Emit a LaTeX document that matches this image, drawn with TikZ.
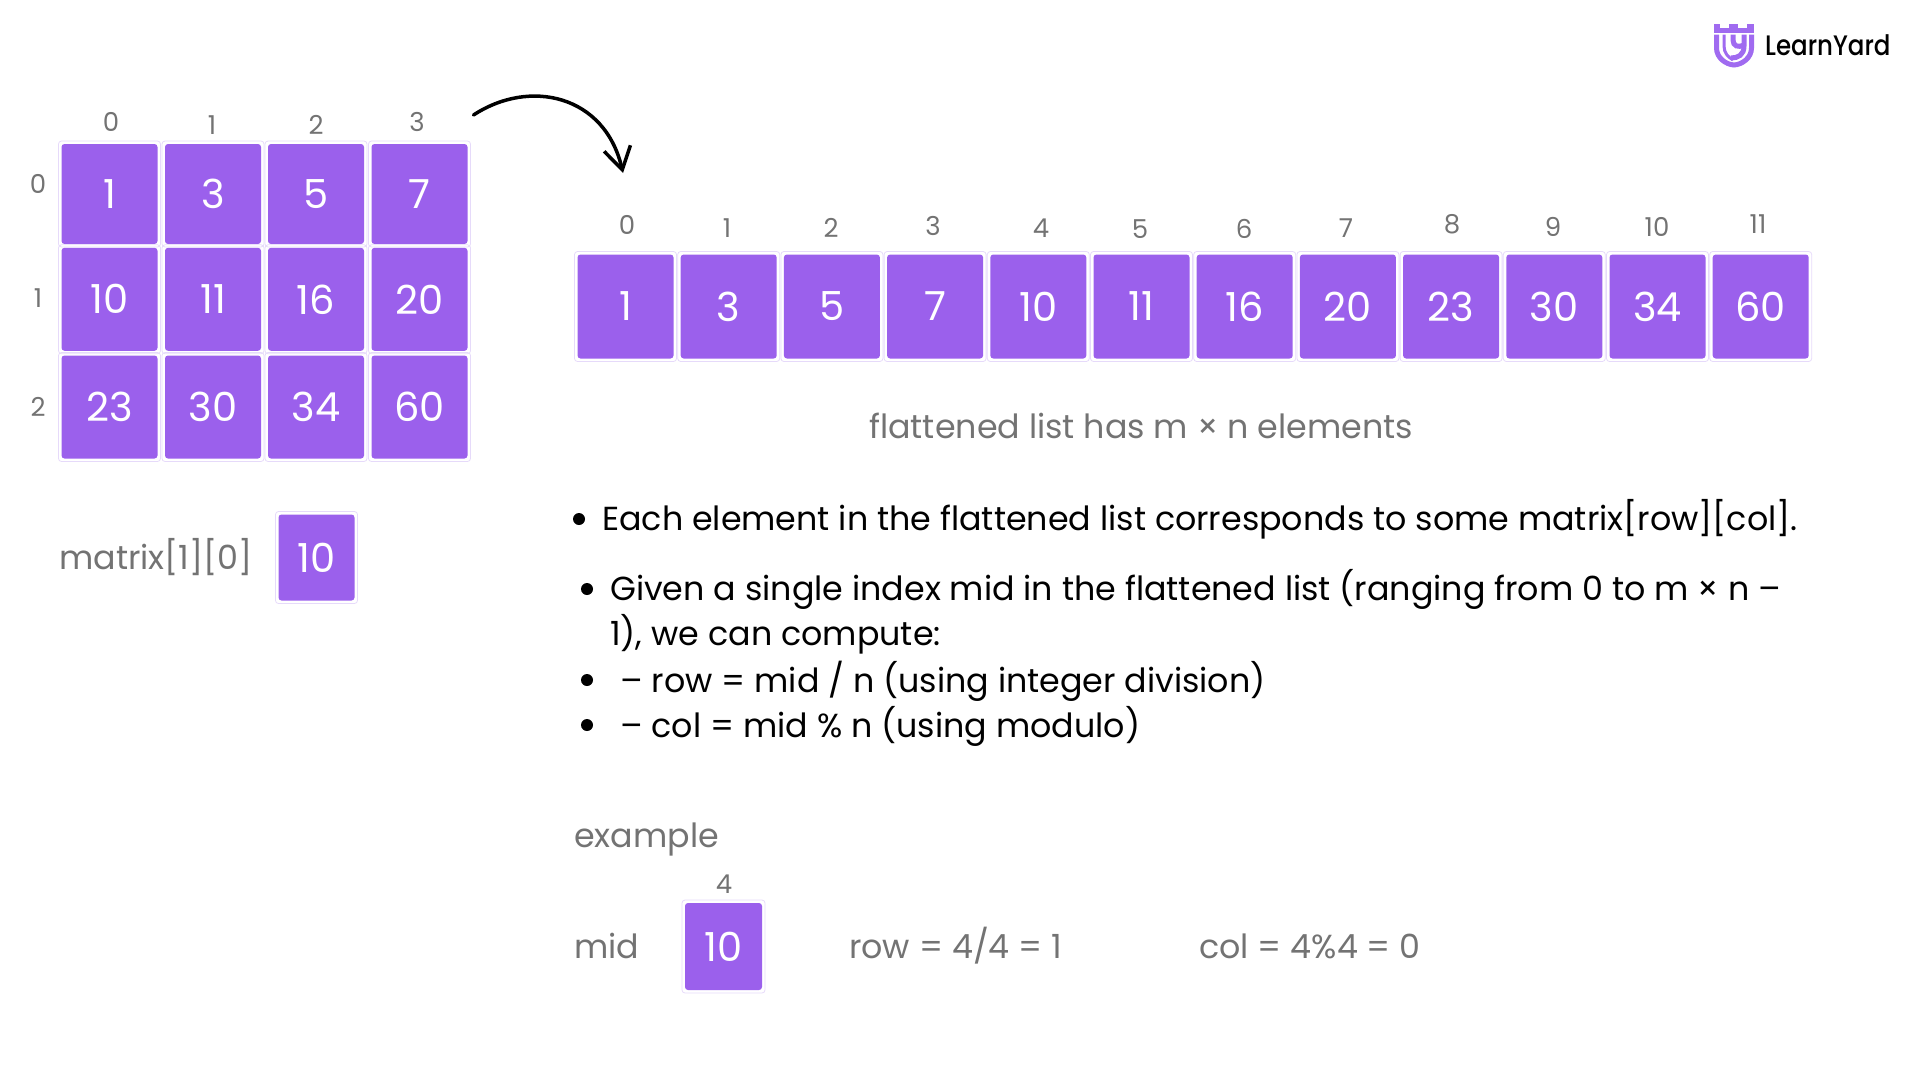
\documentclass[tikz,border=0pt]{standalone}
\usepackage{fontspec}
\setmainfont{Poppins}
\newfontfamily\lightfont{Poppins Light}
\newfontfamily\mediumfont{Poppins Medium}
\usepackage{tikz}
\usetikzlibrary{arrows.meta}
\definecolor{cellfill}{HTML}{9B60EC}
\definecolor{cellline}{HTML}{E6DAFA}
\definecolor{greytext}{HTML}{737373}
\definecolor{logopurple}{HTML}{A06BF0}
\tikzset{
    cell/.style      = {draw=cellline, line width=0.8pt, rounded corners=3pt, inner sep=0pt,
                        text=white, font=\fontsize{40}{48}\selectfont,
                        path picture={\fill[cellfill]
                            ([shift={(3pt,3pt)}]path picture bounding box.south west) rectangle
                            ([shift={(-3pt,-3pt)}]path picture bounding box.north east);}},
    gridcell/.style  = {cell, minimum width=102pt, minimum height=109pt},
    listcell/.style  = {cell, minimum width=102pt, minimum height=110pt},
    index/.style     = {text=greytext, inner sep=0pt, font=\fontsize{26}{30}\selectfont},
    note/.style      = {text=greytext, inner sep=0pt, anchor=base west, font=\fontsize{33.3}{40}\selectfont},
    point/.style     = {text=black, inner sep=0pt, anchor=base west, font=\fontsize{33.3}{40}\selectfont},
    dot/.style       = {circle, fill=black, inner sep=0pt, minimum size=12pt},
    flow/.style      = {-{Straight Barb[length=22pt, width=27pt, line width=3.5pt]}, line width=3.5pt, line cap=round},
    crest/.style     = {draw=logopurple, line cap=butt}
}
\begin{document}
\begin{tikzpicture}[x=1pt, y=-1pt]
    \useasboundingbox (0,0) rectangle (1920,1080);

    % --- matrix ---
    \node[index] (c0) at (111,122) {0};
    \node[index] (c1) at (212,125) {1};
    \node[index] (c2) at (316,125) {2};
    \node[index] (c3) at (417,122) {3};
    \node[index] (r0) at (38,184)  {0};
    \node[index] (r1) at (38,298)  {1};
    \node[index] (r2) at (38,407)  {2};

    \node[gridcell, minimum height=106pt] (m00) at (109.5,194) {1};
    \node[gridcell, minimum height=106pt] (m01) at (213,194)   {3};
    \node[gridcell, minimum height=106pt] (m02) at (316,194)   {5};
    \node[gridcell, minimum height=106pt] (m03) at (419.5,194) {7};
    \node[gridcell] (m10) at (109.5,299.3) {10};
    \node[gridcell] (m11) at (213,299.3)   {11};
    \node[gridcell] (m12) at (316,299.3)   {16};
    \node[gridcell] (m13) at (419.5,299.3) {20};
    \node[gridcell] (m20) at (109.5,407) {23};
    \node[gridcell] (m21) at (213,407)   {30};
    \node[gridcell] (m22) at (316,407)   {34};
    \node[gridcell] (m23) at (419.5,407) {60};

    \node[note] (pick) at (59,569) {matrix[1][0]};
    \node[cell, minimum width=82pt, minimum height=92pt] (picked) at (316.5,557.5) {10};

    % --- arrow ---
    \coordinate (from) at (473.5,115);
    \coordinate (to)   at (623,173);
    \draw[flow] (from) .. controls (530,78) and (605,95) .. (to);

    % --- flattened list ---
    \node[index] (i0)  at (627,225)  {0};
    \node[index] (i1)  at (727,228)  {1};
    \node[index] (i2)  at (831,228)  {2};
    \node[index] (i3)  at (933,226)  {3};
    \node[index] (i4)  at (1041,228) {4};
    \node[index] (i5)  at (1140,229) {5};
    \node[index] (i6)  at (1244,229) {6};
    \node[index] (i7)  at (1346,228) {7};
    \node[index] (i8)  at (1452,224) {8};
    \node[index] (i9)  at (1553,227) {9};
    \node[index] (i10) at (1657,227) {10};
    \node[index] (i11) at (1758,224) {11};

    \node[listcell] (l0)  at (625.5,306.5)  {1};
    \node[listcell] (l1)  at (728.7,306.5)  {3};
    \node[listcell] (l2)  at (831.9,306.5)  {5};
    \node[listcell] (l3)  at (935.1,306.5)  {7};
    \node[listcell] (l4)  at (1038.3,306.5) {10};
    \node[listcell] (l5)  at (1141.5,306.5) {11};
    \node[listcell] (l6)  at (1244.7,306.5) {16};
    \node[listcell] (l7)  at (1347.9,306.5) {20};
    \node[listcell] (l8)  at (1451.1,306.5) {23};
    \node[listcell] (l9)  at (1554.3,306.5) {30};
    \node[listcell] (l10) at (1657.5,306.5) {34};
    \node[listcell] (l11) at (1760.7,306.5) {60};

    \node[note, anchor=base] (size) at (1141,438) {flattened list has m × n elements};

    % --- explanation ---
    \node[dot] (b0) at (579,519) {};
    \node[dot] (b1) at (587,589) {};
    \node[dot] (b2) at (587,680) {};
    \node[dot] (b3) at (587,725) {};
    \node[point] (t0) at (602,530.5) {Each element in the flattened list corresponds to some matrix[row][col].};
    \node[point] (t1) at (610,600) {Given a single index mid in the flattened list (ranging from 0 to m × n –};
    \node[point] (t2) at (610,645.5) {1), we can compute:};
    \node[point] (t3) at (620,692) {– row = mid / n (using integer division)};
    \node[point] (t4) at (620,737.5) {– col = mid \% n (using modulo)};

    % --- example ---
    \node[note] (ex)  at (574,847) {example};
    \node[index] (i)  at (724,884) {4};
    \node[note] (mid) at (574,958) {mid};
    \node[cell, minimum width=83pt, minimum height=93pt] (midcell) at (723.5,946.5) {10};
    \node[note] (row) at (849,958) {row = 4/4 = 1};
    \node[note] (col) at (1199,958) {col = 4\%4 = 0};

    % --- logo ---
    \node[inner sep=0pt, anchor=base west, font=\mediumfont\fontsize{24.5}{30}\selectfont] (brand) at (1765,55)
        {\scalebox{1}[1.15]{LearnYard}};
    \fill[logopurple] (1714,28) rectangle (1754,32.5);
    \fill[logopurple] (1714,23.5) rectangle (1720,28);
    \fill[logopurple] (1729,23.5) rectangle (1738,28);
    \fill[logopurple] (1747,23.5) rectangle (1754,28);
    \draw[crest, line width=5pt] (1716.5,34.5) -- (1716.5,48) .. controls (1716.5,58) and (1726,64.5) .. (1734,65)
        .. controls (1742,64.5) and (1751.5,58) .. (1751.5,48) -- (1751.5,34.5);
    \draw[crest, line width=3pt] (1724,34.5) -- (1724,46) .. controls (1724,53) and (1728,57) .. (1733,60);
    \draw[crest, line width=5pt] (1733,34.5) -- (1733,40) .. controls (1733,46) and (1738,48) .. (1744,45);
    \draw[crest, line width=5pt] (1744,34.5) -- (1744,46) .. controls (1744,55) and (1738,58) .. (1731,58);
\end{tikzpicture}
\end{document}
